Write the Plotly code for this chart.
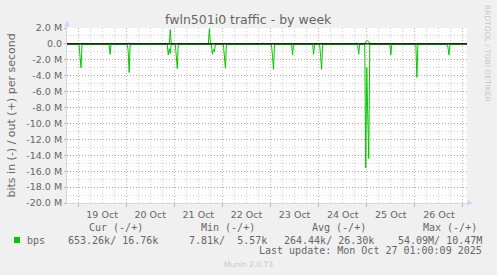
import plotly.graph_objects as go

# ---------------- data (Mbit/s) ----------------
in_times = [
    "2025-10-18 18:30",
    "2025-10-19 00:30", "2025-10-19 01:00", "2025-10-19 01:30", "2025-10-19 02:00",
    "2025-10-19 15:30", "2025-10-19 16:00", "2025-10-19 16:30",
    "2025-10-20 00:30", "2025-10-20 01:00", "2025-10-20 01:30", "2025-10-20 02:00",
    "2025-10-20 20:30", "2025-10-20 21:00", "2025-10-20 21:30", "2025-10-20 22:00", "2025-10-20 22:30",
    "2025-10-21 00:30", "2025-10-21 01:00", "2025-10-21 01:30", "2025-10-21 02:00",
    "2025-10-21 18:30", "2025-10-21 19:00", "2025-10-21 19:30", "2025-10-21 20:00", "2025-10-21 20:30",
    "2025-10-22 00:30", "2025-10-22 01:00", "2025-10-22 01:30", "2025-10-22 02:00",
    "2025-10-23 00:30", "2025-10-23 01:00", "2025-10-23 01:30", "2025-10-23 02:00",
    "2025-10-23 10:30", "2025-10-23 11:00", "2025-10-23 11:30",
    "2025-10-23 21:00", "2025-10-23 21:30", "2025-10-23 22:00",
    "2025-10-24 00:30", "2025-10-24 01:00", "2025-10-24 01:30", "2025-10-24 02:00",
    "2025-10-24 19:00", "2025-10-24 19:30", "2025-10-24 20:00", "2025-10-24 20:30",
    "2025-10-24 23:00", "2025-10-24 23:30", "2025-10-25 00:00", "2025-10-25 00:30", "2025-10-25 01:00", "2025-10-25 01:30",
    "2025-10-25 11:30", "2025-10-25 12:00", "2025-10-25 12:30",
    "2025-10-26 00:30", "2025-10-26 01:00", "2025-10-26 01:30",
    "2025-10-26 16:00", "2025-10-26 16:30", "2025-10-26 17:00", "2025-10-26 17:30",
    "2025-10-27 02:00",
]
in_mbps = [
    0.05,
    0.05, 1.6, 3.0, 0.05,
    0.05, 1.3, 0.05,
    0.05, 0.8, 3.6, 0.05,
    0.05, 1.4, 0.6, 1.2, 0.05,
    0.05, 1.5, 3.1, 0.05,
    0.05, 1.3, 0.7, 1.0, 0.05,
    0.05, 1.5, 3.05, 0.05,
    0.05, 1.6, 3.2, 0.05,
    0.05, 1.4, 0.05,
    0.05, 1.3, 0.05,
    0.05, 1.6, 3.2, 0.05,
    0.05, 0.3, 1.3, 0.05,
    0.05, 15.6, 3.0, 9.0, 14.4, 0.05,
    0.05, 1.4, 0.05,
    0.05, 4.2, 0.05,
    0.05, 0.4, 1.4, 0.05,
    0.05,
]
out_times = [
    "2025-10-18 18:30",
    "2025-10-20 00:30", "2025-10-20 01:00", "2025-10-20 01:30",
    "2025-10-20 21:30", "2025-10-20 22:00", "2025-10-20 22:30",
    "2025-10-21 17:00", "2025-10-21 17:30", "2025-10-21 18:00",
    "2025-10-22 19:30", "2025-10-22 20:00", "2025-10-22 20:30",
    "2025-10-24 18:30", "2025-10-24 19:00", "2025-10-24 19:30",
    "2025-10-24 23:00", "2025-10-24 23:30", "2025-10-25 00:00", "2025-10-25 00:30", "2025-10-25 01:00", "2025-10-25 01:30",
    "2025-10-27 02:00",
]
out_mbps = [
    0.016,
    0.016, 0.15, 0.016,
    0.016, 1.8, 0.016,
    0.016, 1.9, 0.016,
    0.016, 0.12, 0.016,
    0.016, 0.12, 0.016,
    0.016, 0.3, 0.35, 0.4, 0.3, 0.016,
    0.016,
]

y_tick_vals = [2, 0, -2, -4, -6, -8, -10, -12, -14, -16, -18, -20]
y_tick_text = ["2.0 M", "0.0", "-2.0 M", "-4.0 M", "-6.0 M", "-8.0 M", "-10.0 M",
               "-12.0 M", "-14.0 M", "-16.0 M", "-18.0 M", "-20.0 M"]

legend_headers = ["Cur (-/+)", "Min (-/+)", "Avg (-/+)", "Max (-/+)"]
legend_values = ["653.26k/ 16.76k", "7.81k/  5.57k", "264.44k/ 26.30k", "54.09M/ 10.47M"]
series_name = "bps"
title_text = "fwln501i0 traffic - by week"
y_title = "bits in (-) / out (+) per second"
last_update = "Last update: Mon Oct 27 01:00:09 2025"
munin_version = "Munin 2.0.73"
watermark = "RRDTOOL / TOBI OETIKER"

# ---------------- styles ----------------
GREEN = "#00CC00"
FONT_C = "#666666"
AXIS_C = "#CFD6F8"
MGRID = "rgba(230,90,90,0.55)"
GRID = "rgba(180,180,180,0.6)"
W, H = 497, 275
L, R, T, B = 67, 30, 28, 72
PW, PH = W - L - R, H - T - B


def px(x):
    return (x - L) / PW


def py(y):
    return (T + PH - y) / PH


fig = go.Figure()
fig.add_trace(go.Scatter(x=in_times, y=[-v for v in in_mbps], mode="lines",
                         line=dict(color=GREEN, width=1), hoverinfo="skip", showlegend=False))
fig.add_trace(go.Scatter(x=out_times, y=out_mbps, mode="lines",
                         line=dict(color=GREEN, width=1), hoverinfo="skip", showlegend=False))

fig.update_layout(
    width=W, height=H,
    margin=dict(l=L, r=R, t=T, b=B, pad=0),
    paper_bgcolor="#F0F0F0", plot_bgcolor="#FFFFFF",
    font=dict(family="DejaVu Sans", size=9.5, color=FONT_C),
    showlegend=False,
)
fig.update_xaxes(
    type="date", range=["2025-10-18 18:30", "2025-10-27 02:00"],
    tick0="2025-10-19", dtick=86400000, tickformat="%d %b", ticklabelmode="period",
    showgrid=True, gridcolor=MGRID, griddash="1px,2px", gridwidth=1,
    ticks="outside", ticklen=3, tickcolor=MGRID,
    minor=dict(dtick=6 * 3600 * 1000, tick0="2025-10-19", showgrid=True, gridcolor=GRID,
               griddash="1px,2px", ticks=""),
    showline=True, linecolor=AXIS_C, linewidth=1, zeroline=False,
    tickfont=dict(size=9.5, color=FONT_C), fixedrange=True,
)
fig.update_yaxes(
    range=[-20, 2], tickvals=y_tick_vals, ticktext=y_tick_text,
    showgrid=True, gridcolor=MGRID, griddash="1px,2px", gridwidth=1,
    ticks="outside", ticklen=2, tickcolor=MGRID,
    minor=dict(dtick=1, showgrid=True, gridcolor=GRID, griddash="1px,2px", ticks=""),
    showline=True, linecolor=AXIS_C, linewidth=1, zeroline=False,
    tickfont=dict(size=9.5, color=FONT_C), fixedrange=True,
)

shapes = []
# zero line
shapes.append(dict(type="line", xref="paper", yref="y", x0=0, x1=1, y0=0, y1=0,
                   line=dict(color="#000000", width=1.3), layer="above"))
# axis extensions + arrows
shapes.append(dict(type="line", xref="paper", yref="paper", x0=1, x1=px(469), y0=0, y1=0,
                   line=dict(color=AXIS_C, width=1), layer="above"))
shapes.append(dict(type="line", xref="paper", yref="paper", x0=0, x1=0, y0=1, y1=py(25),
                   line=dict(color=AXIS_C, width=1), layer="above"))
shapes.append(dict(type="path", xref="paper", yref="paper",
                   path=f"M {px(467.5)} {py(200)} L {px(467.5)} {py(206)} L {px(473)} {py(203)} Z",
                   fillcolor=AXIS_C, line=dict(width=0), layer="above"))
shapes.append(dict(type="path", xref="paper", yref="paper",
                   path=f"M {px(64)} {py(26.5)} L {px(70)} {py(26.5)} L {px(67)} {py(20.5)} Z",
                   fillcolor=AXIS_C, line=dict(width=0), layer="above"))
# legend square
shapes.append(dict(type="rect", xref="paper", yref="paper",
                   x0=px(14), x1=px(20), y0=py(243), y1=py(237),
                   fillcolor=GREEN, line=dict(width=0)))
fig.update_layout(shapes=shapes)

ann = []


def add_text(text, x, y, size, color=FONT_C, family="DejaVu Sans", xanchor="left", angle=0):
    ann.append(dict(text=text, x=px(x), y=py(y), xref="paper", yref="paper",
                    xanchor=xanchor, yanchor="middle", showarrow=False,
                    font=dict(family=family, size=size, color=color),
                    textangle=angle, borderpad=0, borderwidth=0))


add_text(title_text, 248, 19, 12.5, xanchor="center")
add_text(y_title, 11, 115.5, 11, xanchor="center", angle=-90)
add_text(watermark, 488, 53, 7.5, color="#C8C8C8", xanchor="center", angle=90)
MONO = "DejaVu Sans Mono"
for hdr, hx in zip(legend_headers, [89.3, 201, 312.3, 422.7]):
    add_text(hdr, hx, 227.7, 10, family=MONO)
add_text(series_name, 26.7, 240, 10, family=MONO)
for val, vx in zip(legend_values, [157.7, 266.7, 374.3, 482.3]):
    add_text(val, vx, 240, 10, family=MONO, xanchor="right")
add_text(last_update, 482.3, 250.7, 10, family=MONO, xanchor="right")
add_text(munin_version, 248, 264.3, 7.5, color="#C8C8C8", xanchor="center")
fig.update_layout(annotations=ann)

fig.write_html("out.html", config={"displayModeBar": False, "staticPlot": True})
